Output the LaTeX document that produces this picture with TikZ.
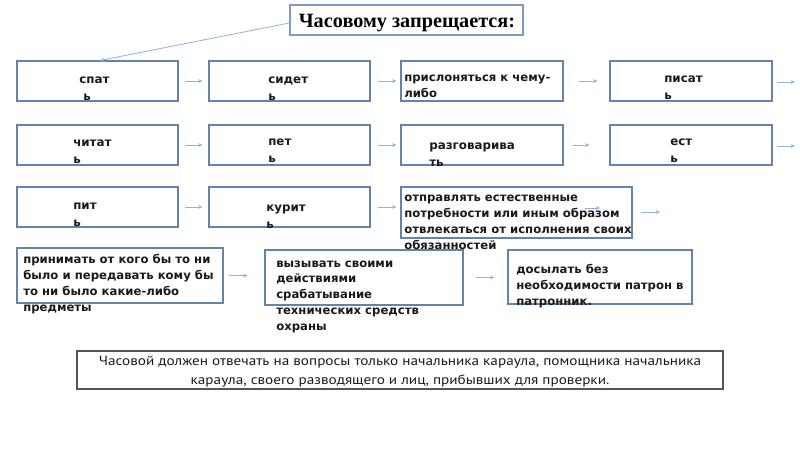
\documentclass[tikz,border=0pt]{standalone}
\usepackage{fontspec}
\setmainfont{DejaVu Sans}
\newfontfamily\titlefont{Liberation Serif}
\newfontfamily\notefont[FakeStretch=1.14]{PT Sans}
\usetikzlibrary{arrows.meta,fit}
\definecolor{boxc}{HTML}{6283AC}
\definecolor{titc}{HTML}{7C9AC2}
\definecolor{arrc}{HTML}{8DB3DF}
\definecolor{notec}{HTML}{555555}
\definecolor{txtc}{HTML}{1A1A1A}
\begin{document}
\begin{tikzpicture}[x=0.75pt,y=-0.75pt,
  box/.style={draw=boxc,line width=0.85pt,inner sep=0pt},
  lab/.style={anchor=base west,align=left,inner sep=0pt,text=txtc,
    font=\fontsize{8.9}{12.75}\selectfont\bfseries},
  labm/.style={lab,font=\fontsize{8.75}{11.8}\selectfont\bfseries},
  arr/.style={draw=arrc,line width=0.6pt,-{Stealth[length=3.2pt,width=2.8pt]}}]
\useasboundingbox[fill=white] (0,0) rectangle (800,450);
% title
\node[draw=titc,line width=0.9pt,inner sep=0pt,fit={(290,5)(523,35)}] (title) {};
\node[anchor=base,inner sep=0pt,font=\titlefont\fontsize{15.2}{17}\selectfont\bfseries] (titleT) at (407,27) {Часовому запрещается:};
% row 1
\node[box,fit={(17,61)(178,101)}] (spat) {};
\node[box,fit={(209,61)(370,101)}] (sidet) {};
\node[box,fit={(401,61)(563,101)}] (prisl) {};
\node[box,fit={(610,61)(772,101)}] (pisat) {};
% row 2
\node[box,fit={(17,125)(178,165)}] (chitat) {};
\node[box,fit={(209,125)(370,165)}] (pet) {};
\node[box,fit={(401,125)(563,165)}] (razg) {};
\node[box,fit={(610,125)(772,165)}] (est) {};
% row 3
\node[box,fit={(17,187)(178,227)}] (pit) {};
\node[box,fit={(209,187)(370,227)}] (kurit) {};
\node[box,fit={(401,187)(632,238)}] (otpr) {};
% row 4
\node[box,fit={(17,248)(223,303)}] (prin) {};
\node[box,fit={(265,250)(463,305)}] (vyz) {};
\node[box,fit={(508,250)(692,304)}] (dos) {};
% note
\node[draw=notec,line width=0.9pt,inner sep=0pt,fit={(77,351)(723,389)}] (note) {};

% labels (anchor = baseline of the last line)
\node[lab] (spatT) at (79,100) {спат\\\hspace{3pt}ь};
\node[lab] (sidetT) at (268,100) {сидет\\ь};
\node[labm] (prislT) at (404,97) {прислоняться к чему-\\либо};
\node[lab] (pisatT) at (664,99) {писат\\ь};
\node[lab] (chitatT) at (73,163) {читат\\ь};
\node[lab] (petT) at (268,162) {пет\\ь};
\node[lab] (razgT) at (429,166) {разговарива\\ть};
\node[lab] (estT) at (670,162) {ест\\ь};
\node[lab] (pitT) at (73,226) {пит\\ь};
\node[lab] (kuritT) at (266,228) {курит\\ь};
\node[labm] (otprT) at (404,249) {отправлять естественные\\потребности или иным образом\\отвлекаться от исполнения своих\\обязанностей};
\node[labm] (prinT) at (23,311) {принимать от кого бы то ни\\было и передавать кому бы\\то ни было какие-либо\\предметы};
\node[labm] (vyzT) at (276,330) {вызывать своими\\действиями\\срабатывание\\технических средств\\охраны};
\node[labm] (dosT) at (516,305) {досылать без\\необходимости патрон в\\патронник.};
\node[anchor=base,align=center,inner sep=0pt,text=txtc,font=\notefont\fontsize{10}{14.25}\selectfont] (noteT) at (400,384) {Часовой должен отвечать на вопросы только начальника караула, помощника начальника\\караула, своего разводящего и лиц, прибывших для проверки.};

% connectors
\coordinate (e1) at (795,82);
\coordinate (e2) at (795,146);
\coordinate (e3) at (660,212);
\coordinate (h1) at (585,208);
\coordinate (h2) at (600,208);
\draw[arr] ([yshift=-2.25pt]title.west) -- ([xshift=2pt]spat.north);
\draw[arr,shorten <=4.5pt,shorten >=4.5pt] (spat) -- (sidet);
\draw[arr,shorten <=5.25pt,shorten >=3pt] (sidet) -- (prisl);
\draw[arr,shorten <=11.25pt,shorten >=9pt] (prisl) -- (pisat);
\draw[arr,shorten <=3pt] (pisat.east |- e1) -- (e1);
\draw[arr,shorten <=4.5pt,shorten >=4.5pt] (chitat) -- (pet);
\draw[arr,shorten <=5.25pt,shorten >=3pt] (pet) -- (razg);
\draw[arr,shorten <=6.75pt,shorten >=15pt] (razg) -- (est);
\draw[arr,shorten <=3pt] (est.east |- e2) -- (e2);
\draw[arr,shorten <=4.5pt,shorten >=4.5pt] (pit) -- (kurit);
\draw[arr,shorten <=5.25pt,shorten >=3pt] (kurit) -- (kurit -| otpr.west);
\draw[arr] (h1) -- (h2);
\draw[arr,shorten <=6pt] (otpr.east |- e3) -- (e3);
\draw[arr,shorten <=3.75pt,shorten >=12.75pt] (prin) -- (prin -| vyz.west);
\draw[arr,shorten <=9pt,shorten >=9.75pt] (vyz) -- (vyz -| dos.west);
\end{tikzpicture}
\end{document}
